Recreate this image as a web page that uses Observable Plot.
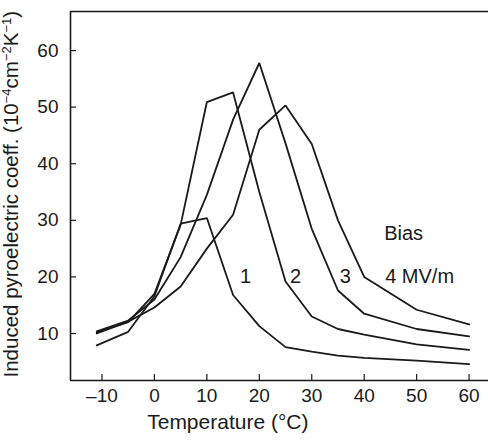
<!DOCTYPE html>
<html>
<head>
<meta charset="utf-8">
<script src="https://cdn.jsdelivr.net/npm/d3@7"></script>
<script src="https://cdn.jsdelivr.net/npm/@observablehq/plot@0.6"></script>
<style>
  html, body { margin: 0; padding: 0; background: #fff; }
</style>
</head>
<body>
<div id="chart"></div>
<script>
// ---- data ----
const temps = [-11, -5, 0, 5, 10, 15, 20, 25, 30, 35, 40, 50, 60];
const bias1 = [7.9, 10.3, 16.6, 29.4, 30.4, 16.8, 11.3, 7.6, 6.8, 6.1, 5.7, 5.2, 4.6];
const bias2 = [10.2, 12.0, 17.0, 29.2, 50.9, 52.6, 35.0, 19.2, 13.0, 10.8, 9.8, 8.1, 7.1];
const bias3 = [10.4, 12.3, 16.0, 23.5, 34.5, 47.8, 57.8, 43.6, 28.5, 17.6, 13.5, 10.8, 9.5];
const bias4 = [10.0, 12.1, 14.6, 18.3, 25.0, 31.0, 46.0, 50.3, 43.5, 30.0, 20.0, 14.2, 11.6];
const seriesNames = ["1", "2", "3", "4"];
const xTicks = [-10, 0, 10, 20, 30, 40, 50, 60];
const yTicks = [10, 20, 30, 40, 50, 60];
const curveLabels = ["1", "2", "3"];
const curveLabelX = [17.4, 26.9, 36.4];
const curveLabelY = [20.1, 20.1, 20.1];
const lastLabel = "4 MV/m";
const lastLabelX = 44.0;
const lastLabelY = 20.1;
const biasTitle = "Bias";
const biasX = 43.8;
const biasY = 27.7;
const xLabel = "Temperature (°C)";
const xLabelAt = 14;
const yLabelParts = [
  ["Induced pyroelectric coeff. (10", false],
  ["\u22124", true],
  ["cm", false],
  ["\u22122", true],
  ["K", false],
  ["\u22121", true],
  [")", false]
];
const xDomain = [-16, 63.7];
const yDomain = [1.7, 66.9];

// ---- table ----
const allSeries = [bias1, bias2, bias3, bias4];
const rows = allSeries.flatMap((vals, i) =>
  temps.map((t, j) => ({ t, p: vals[j], bias: seriesNames[i] }))
);
const labelRows = curveLabels.map((s, i) => ({ s, x: curveLabelX[i], y: curveLabelY[i] }));

const ink = "#1a1a1a";
const font = "'Liberation Sans', Arial, Helvetica, sans-serif";
const yLabelText = yLabelParts.map(d => d[0]).join("");

const chart = Plot.plot({
  width: 488,
  height: 442,
  marginLeft: 70,
  marginRight: 0,
  marginTop: 11,
  marginBottom: 62,
  style: { fontFamily: font, fontSize: "19px", background: "#fff", color: ink },
  x: { domain: xDomain, axis: null },
  y: { domain: yDomain, axis: null },
  marks: [
    // frame lines: left, top, bottom
    Plot.ruleX([xDomain[0]], { stroke: ink, strokeWidth: 1.6 }),
    Plot.ruleY([yDomain[1]], { stroke: ink, strokeWidth: 1.6 }),
    Plot.ruleY([yDomain[0]], { stroke: ink, strokeWidth: 1.4 }),
    // inward tick marks
    Plot.ruleX(xTicks, { y1: yDomain[0], y2: yDomain[0] + 1.05, stroke: ink, strokeWidth: 1.2 }),
    Plot.ruleY(yTicks, { x1: xDomain[0], x2: xDomain[0] + 1.15, stroke: ink, strokeWidth: 1.2 }),
    // tick labels
    Plot.axisX(xTicks, {
      anchor: "bottom", tickSize: 0, tickPadding: 8, fontSize: 19, fill: ink,
      tickFormat: d => (d < 0 ? "\u2013" + Math.abs(d) : String(d)), label: null
    }),
    Plot.axisY(yTicks, {
      anchor: "left", tickSize: 0, tickPadding: 12, fontSize: 19, fill: ink, label: null
    }),
    // curves
    Plot.line(rows, { x: "t", y: "p", z: "bias", stroke: ink, strokeWidth: 1.8, strokeLinejoin: "miter" }),
    // in-plot labels
    Plot.text(labelRows, { x: "x", y: "y", text: "s", fontSize: 20, fill: ink, textAnchor: "middle" }),
    Plot.text([lastLabel], { x: () => lastLabelX, y: () => lastLabelY, text: d => d, fontSize: 20, fill: ink, textAnchor: "start" }),
    Plot.text([biasTitle], { x: () => biasX, y: () => biasY, text: d => d, fontSize: 20, fill: ink, textAnchor: "start" }),
    // axis titles
    Plot.text([xLabel], { x: () => xLabelAt, frameAnchor: "bottom", dy: 48, text: d => d, fontSize: 21, fill: ink, textAnchor: "middle" }),
    Plot.text([yLabelText], { frameAnchor: "bottom-left", dx: -53, dy: -3, rotate: -90, text: d => d, fontSize: 20.5, fill: ink, textAnchor: "start" })
  ]
});

// superscripts in the y label
chart.querySelectorAll("text").forEach(el => {
  if (el.textContent === yLabelText) {
    while (el.firstChild) el.removeChild(el.firstChild);
    let raised = false;
    yLabelParts.forEach(([s, sup]) => {
      const ts = document.createElementNS("http://www.w3.org/2000/svg", "tspan");
      ts.textContent = s;
      if (sup) {
        ts.setAttribute("font-size", "13");
        ts.setAttribute("dy", raised ? "0" : "-7");
        raised = true;
      } else {
        if (raised) ts.setAttribute("dy", "7");
        raised = false;
      }
      el.appendChild(ts);
    });
  }
});

document.getElementById("chart").appendChild(chart);
</script>
</body>
</html>
